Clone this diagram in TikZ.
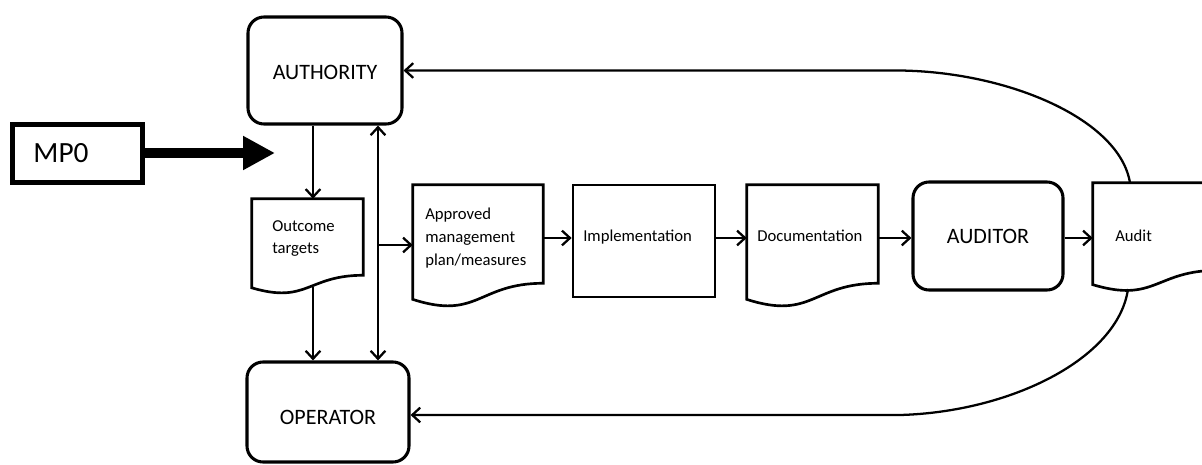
\documentclass[tikz,border=0pt]{standalone}
\usepackage{fontspec}
\setmainfont{Carlito}
\usetikzlibrary{arrows.meta,calc,fit}
\newcommand\docshape[2]{\draw[docline] (#1.south east) .. controls (#1.south) and ($(#1.south)+(0,#2*0.305)$) .. ($(#1.south west)+(0,#2*0.132)$) -- (#1.north west) -- (#1.north east) -- cycle;}
\begin{document}
\begin{tikzpicture}[x=0.75pt,y=-0.75pt,
  rbox/.style={draw, line width=2.3pt, rounded corners=12pt, inner sep=0pt, font=\fontsize{16.5}{19}\selectfont},
  sbox/.style={draw, line width=2pt, inner sep=0pt},
  docfit/.style={inner sep=0pt, draw=none},
  docline/.style={line width=2pt},
  lbl/.style={anchor=west, inner sep=0pt, align=left, font=\fontsize{12.5}{16.5}\selectfont},
  arr/.style={line width=1.7pt, -{Straight Barb[length=6pt,width=11pt]}},
  arrboth/.style={line width=1.7pt, {Straight Barb[length=6pt,width=11pt]}-{Straight Barb[length=6pt,width=11pt]}},
  bigarr/.style={line width=8pt, -{Triangle[length=24pt,width=24pt]}}
]
\useasboundingbox (0,0) rectangle (1202,464);
\clip (0,0) rectangle (1202,464);

% main boxes
\node[rbox, minimum width=115.5pt, minimum height=80.25pt, text height=12.8pt, text depth=0pt] (auth) at (325,70.5) {AUTHORITY};
\node[rbox, minimum width=121.5pt, minimum height=75pt, text height=18pt, text depth=0pt] (oper) at (328,412) {OPERATOR};
\node[rbox, minimum width=112.5pt, minimum height=81pt] (auditor) at (988,236) {AUDITOR};
\node[draw, line width=3.75pt, inner sep=0pt, minimum width=98pt, minimum height=43.5pt,
      text width=66pt, align=left, font=\fontsize{22}{26}\selectfont] (mp) at (77.5,153) {MP0};

% document shapes
\node[docfit, fit={(252,199) (363,275)}] (outc) {};
\docshape{outc}{95}
\node[lbl] (outct) at (272,239) {Outcome\\targets};

\node[docfit, fit={(413,185) (543,283)}] (appr) {};
\docshape{appr}{122}
\node[lbl, font=\fontsize{12.5}{17}\selectfont] (apprt) at (425,238) {Approved\\management\\plan/measures};

\node[sbox, minimum width=106.5pt, minimum height=84pt] (impl) at (644,241) {};
\node[lbl] (implt) at (583,237) {Implementation};

\node[docfit, fit={(747,185) (878,283)}] (docu) {};
\docshape{docu}{122}
\node[lbl] (docut) at (757,236) {Documentation};

\node[docfit, fit={(1093,183) (1218,270)}] (audit) {};
\docshape{audit}{109}
\node[lbl] (auditt) at (1115,236) {Audit};

% helper coordinates
\coordinate (v) at (378,0);
\coordinate (tap) at (378,245);
\coordinate (row) at (0,238);
\coordinate (outbot) at (313,287);
\coordinate (mpend) at (275,153);
\coordinate (lt) at (1130,183);
\coordinate (lb) at (1128,289);
\coordinate (ob) at (900,415);

% connectors
\draw[bigarr] (mp.east) -- (mpend);
\draw[arr] ([xshift=-9pt]auth.south) -- ([xshift=-9pt]auth.south |- outc.north);
\draw[arr] (outbot) -- (outbot |- oper.north);
\draw[arrboth] (auth.south -| v) -- (oper.north -| v);
\draw[arr] (tap) -- (appr.west |- tap);
\draw[arr] (appr.east |- row) -- (impl.west |- row);
\draw[arr] (impl.east |- row) -- (docu.west |- row);
\draw[arr] (docu.east |- row) -- (auditor.west |- row);
\draw[arr] (auditor.east |- row) -- (audit.west |- row);
\draw[arr] (lt) .. controls (1120,120) and (1010,72) .. (900,70.5) -- (auth.east);
\draw[arr] (lb) .. controls (1118,359) and (1010,412) .. (ob) -- (oper.east |- ob);
\end{tikzpicture}
\end{document}
